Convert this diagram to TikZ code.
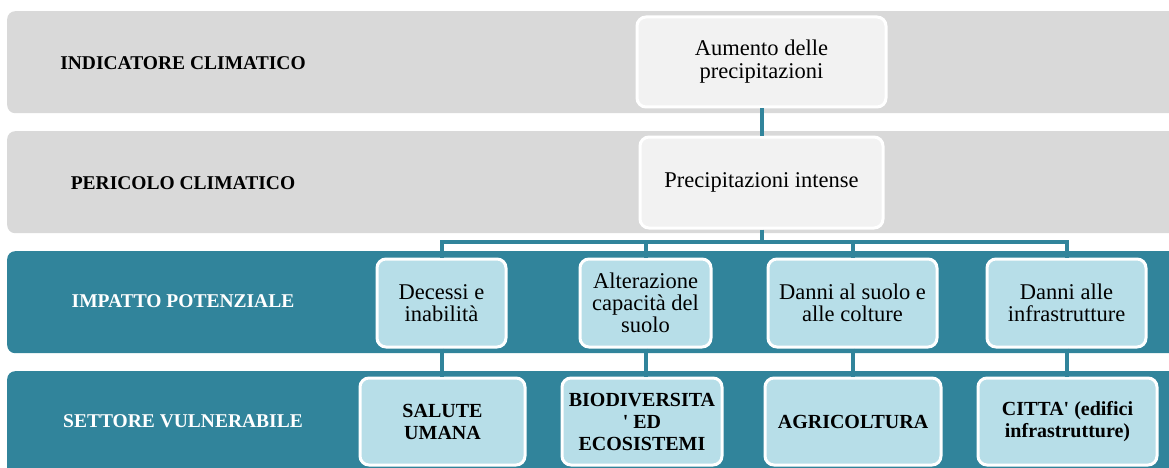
\documentclass[tikz,border=0pt]{standalone}
\usepackage{fontspec}
\setmainfont{Liberation Serif}
\newfontfamily\plainserif{Liberation Serif}
\usepackage{xcolor}
\usetikzlibrary{positioning}
\definecolor{bandgray}{HTML}{D9D9D9}
\definecolor{bandteal}{HTML}{31849B}
\definecolor{boxlight}{HTML}{F2F2F2}
\definecolor{boxteal}{HTML}{B7DEE8}

\begin{document}
\begin{tikzpicture}[
    x=1pt, y=-1pt,
    band/.style={rectangle, rounded corners=8pt, minimum width=1180pt, minimum height=102pt, anchor=north west, inner sep=0pt},
    rowlabel/.style={align=center, font=\fontsize{19.5}{22}\selectfont\bfseries},
    block/.style={draw=white, line width=3pt, rectangle, rounded corners=9pt, align=center, inner sep=0pt, font=\plainserif\fontsize{22.5}{22}\selectfont},
    sector/.style={block, font=\plainserif\fontsize{20}{22}\selectfont\bfseries},
    link/.style={draw=bandteal, line width=4pt}
  ]
  \clip (0,0) rectangle (1169,468);
  % bands
  \node[band, fill=bandgray] (indband) at (7,11) {};
  \node[band, fill=bandgray] (perband) at (7,131) {};
  \node[band, fill=bandteal] (impband) at (7,251) {};
  \node[band, fill=bandteal, minimum height=110pt] (setband) at (7,371) {};

  \node[rowlabel] (indlabel) at (183,63) {INDICATORE CLIMATICO};
  \node[rowlabel] (perlabel) at (183,183) {PERICOLO CLIMATICO};
  \node[rowlabel, text=white] (implabel) at (183,301) {IMPATTO POTENZIALE};
  \node[rowlabel, text=white] (setlabel) at (183,421) {SETTORE VULNERABILE};

  % blocks
  \node[block, fill=boxlight, minimum width=249pt, minimum height=90pt, font=\plainserif\fontsize{22.5}{23}\selectfont] (aumento) at (761.5,62) {Aumento delle\\precipitazioni};
  \node[block, fill=boxlight, minimum width=243pt, minimum height=91pt] (intense) at (761.5,182.5) {Precipitazioni intense};

  \node[block, fill=boxteal, minimum width=129pt, minimum height=88pt] (decessi) at (441.5,303) {Decessi e\\inabilità};
  \node[block, fill=boxteal, minimum width=131pt, minimum height=88pt] (suolo) at (645.5,303) {Alterazione\\capacità del\\suolo};
  \node[block, fill=boxteal, minimum width=169pt, minimum height=88pt] (colture) at (852.5,303) {Danni al suolo e\\alle colture};
  \node[block, fill=boxteal, minimum width=159pt, minimum height=88pt] (infra) at (1066.5,303) {Danni alle\\infrastrutture};

  \node[sector, fill=boxteal, minimum width=165pt, minimum height=87pt] (salute) at (442.5,421.5) {SALUTE\\UMANA};
  \node[sector, fill=boxteal, minimum width=160pt, minimum height=87pt] (biodiv) at (642,421.5) {BIODIVERSITA\\' ED\\ECOSISTEMI};
  \node[sector, fill=boxteal, minimum width=176pt, minimum height=87pt] (agri) at (853,421.5) {AGRICOLTURA};
  \node[sector, fill=boxteal, minimum width=179pt, minimum height=87pt] (citta) at (1067.5,421.5) {CITTA' (edifici\\infrastrutture)};

  % connectors
  \coordinate (bus) at (761.5,242);
  \draw[link] (aumento) -- (intense);
  \draw[link] (intense.south) -- (bus);
  \draw[link] (decessi.north) -- (decessi.north |- bus) -- (infra.north |- bus) -- (infra.north);
  \draw[link] (suolo.north) -- (suolo.north |- bus);
  \draw[link] (colture.north) -- (colture.north |- bus);
  \draw[link] (decessi.south) -- (decessi.south |- salute.north);
  \draw[link] (suolo.south) -- (suolo.south |- biodiv.north);
  \draw[link] (colture.south) -- (colture.south |- agri.north);
  \draw[link] (infra.south) -- (infra.south |- citta.north);
\end{tikzpicture}
\end{document}
